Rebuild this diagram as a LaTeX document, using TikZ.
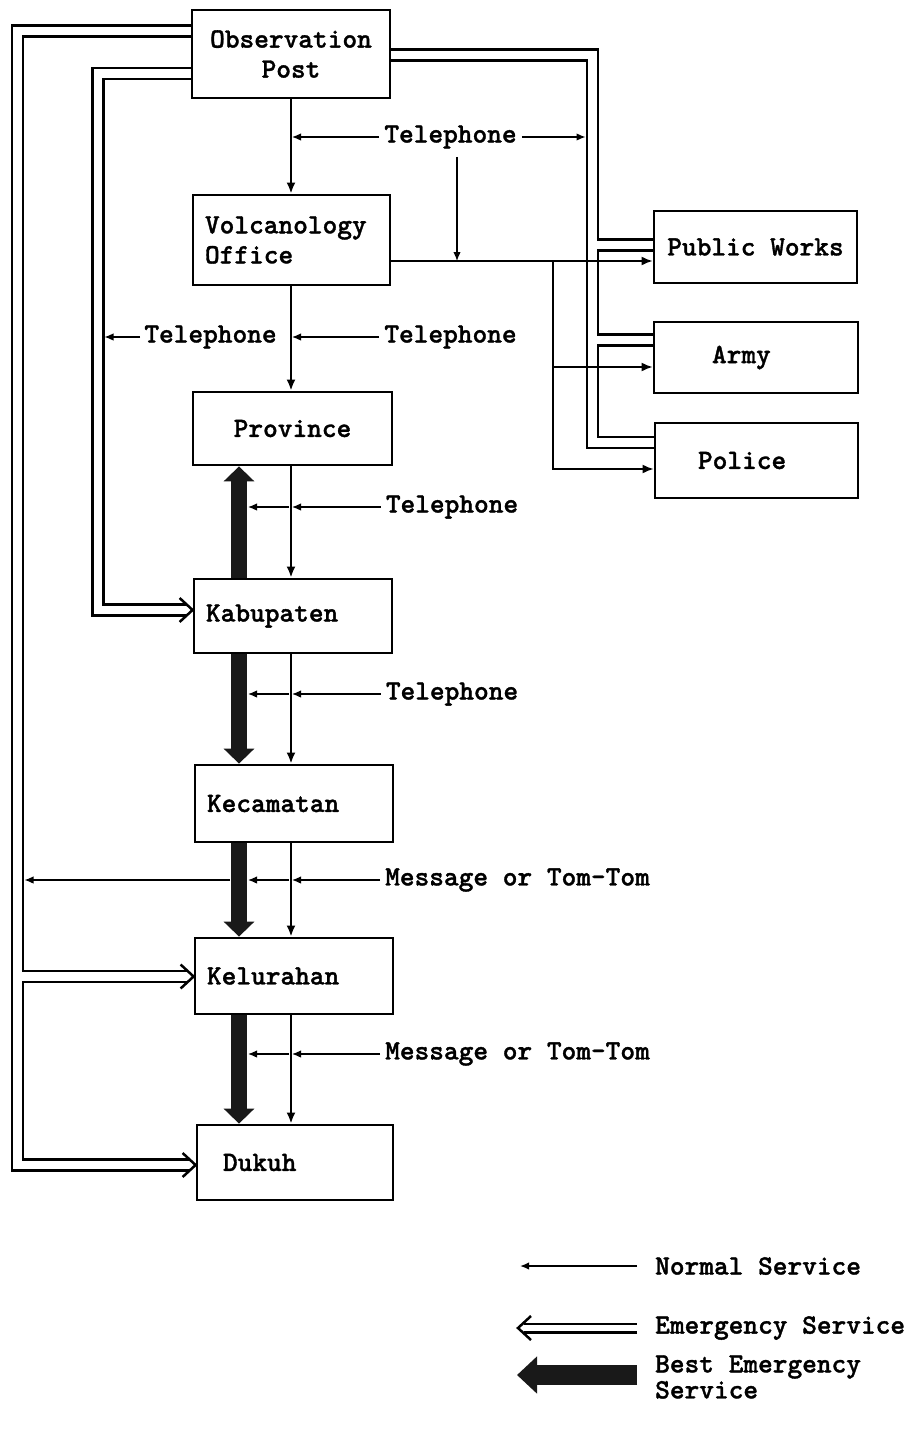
\documentclass[tikz,border=0pt]{standalone}
\usepackage{fontspec}
\usetikzlibrary{arrows.meta,calc}
\newfontfamily\tw[FakeBold=1.2]{lmmonolt10-bold.otf}
\begin{document}
\begin{tikzpicture}[x=1pt,y=-1pt,
  box/.style={draw, line width=2.8pt, inner sep=0pt, font=\tw\fontsize{28}{30}\selectfont},
  lbl/.style={inner sep=0pt, font=\tw\fontsize{28}{30}\selectfont},
  norm/.style={line width=2.2pt, -{Latex[length=11pt,width=9pt]}},
  side/.style={line width=1.8pt, -{Latex[length=11pt,width=9pt]}},
  tel/.style={line width=1.3pt, -{Latex[length=9pt,width=7.5pt]}},
  emerg/.style={double=white, double distance=8.5pt, line width=2.5pt, line join=miter},
  best/.style={line width=16pt, draw=black!90, -{Triangle[width=30pt,length=15pt,fill=black!90]}},
  ohead/.pic={\draw[line width=2.5pt, line join=miter] (-13,-12) -- (0,0) -- (-13,12);}
]
\fill[white] (0,0) rectangle (918,1429);
\path[use as bounding box] (0,0) rectangle (918,1429);

% boxes
\node[box, minimum width=198pt, minimum height=88pt, align=center] (obs) at (291,54) {Observation\\Post};
\node[box, minimum width=197pt, minimum height=90pt, text width=173pt, align=left] (volc) at (291.5,240) {Volcanology\\Office};
\node[box, minimum width=199pt, minimum height=73pt, align=center] (prov) at (292.5,428.5) {Province};
\node[box, minimum width=198pt, minimum height=74pt, text width=174pt, align=left] (kab) at (293,616) {Kabupaten};
\node[box, minimum width=198pt, minimum height=77pt, text width=174pt, align=left] (kec) at (294,803.5) {Kecamatan};
\node[box, minimum width=198pt, minimum height=76pt, text width=174pt, align=left] (kel) at (294,976) {Kelurahan};
\node[box, minimum width=196pt, minimum height=75pt, text width=144pt, align=left] (duk) at (295,1162.5) {Dukuh};
\node[box, minimum width=203pt, minimum height=72pt, align=center] (pw) at (755.5,247) {Public Works};
\node[box, minimum width=204pt, minimum height=71pt, text width=88pt, align=left] (army) at (756,357.5) {Army};
\node[box, minimum width=203pt, minimum height=75pt, text width=117pt, align=left] (pol) at (756.5,460.5) {Police};

% labels
\node[lbl] (tel1) at (450.5,137) {Telephone};
\node[lbl] (tel2) at (450.5,337) {Telephone};
\node[lbl] (tel3) at (210.5,337) {Telephone};
\node[lbl] (tel4) at (452,507) {Telephone};
\node[lbl] (tel5) at (452,694) {Telephone};
\node[lbl, anchor=west] (msg1) at (385,880) {Message or Tom-Tom};
\node[lbl, anchor=west] (msg2) at (385,1054) {Message or Tom-Tom};

% helper coordinates
\coordinate (nx) at (291,0);
\coordinate (vx) at (292,0);
\coordinate (lx) at (289,0);
\coordinate (bx) at (239,0);
\coordinate (tx) at (248,0);

% emergency service (double lines)
\coordinate (e1) at (17.5,31);
\coordinate (e2) at (17.5,1165);
\draw[emerg] (obs.west |- e1) -- (e1) -- (e2) -- ($(duk.west |- e2)+(-6,0)$);
\pic at (duk.west |- e2) {ohead};
\coordinate (e3) at (21.75,976.5);
\draw[emerg] (e3) -- ($(kel.west |- e3)+(-6,0)$);
\pic at (kel.west |- e3) {ohead};

\coordinate (i1) at (98,73.5);
\coordinate (i2) at (98,610);
\draw[emerg] (obs.west |- i1) -- (i1) -- (i2) -- ($(kab.west |- i2)+(-6,0)$);
\pic at (kab.west |- i2) {ohead};

\coordinate (r1) at (592.5,55);
\coordinate (r2) at (592.5,442.5);
\draw[emerg] (obs.east |- r1) -- (r1) -- (r2) -- (pol.west |- r2);
\coordinate (r3) at (596.75,245);
\coordinate (r4) at (596.75,340);
\draw[emerg] (r3) -- (pw.west |- r3);
\draw[emerg] (r4) -- (army.west |- r4);

% normal service verticals
\draw[norm] (obs.south -| nx) -- (volc.north -| nx);
\draw[norm] (volc.south -| nx) -- (prov.north -| nx);
\draw[norm] (prov.south -| nx) -- (kab.north -| nx);
\draw[norm] (kab.south -| nx) -- (kec.north -| nx);
\draw[norm] (kec.south -| nx) -- (kel.north -| nx);
\draw[norm] (kel.south -| nx) -- (duk.north -| nx);

% volcanology office to agencies
\coordinate (j0) at (volc.east |- 0,261);
\coordinate (j1) at (553,261);
\coordinate (j2) at (553,367);
\coordinate (j3) at (553,469);
\draw[side] (j0) -- (pw.west |- j0);
\draw[side] (j1) -- (j3) -- (pol.west |- j3);
\draw[side] (j2) -- (army.west |- j2);

% best emergency service
\draw[best] (kab.north -| bx) -- (prov.south -| bx);
\draw[best] (kab.south -| bx) -- (kec.north -| bx);
\draw[best] (kec.south -| bx) -- (kel.north -| bx);
\draw[best] (kel.south -| bx) -- (duk.north -| bx);

% label arrows
\coordinate (td) at ($(tel1.south)+(6.5,8)$);
\draw[tel] ($(tel1.west)+(-5,0)$) -- (tel1.west -| vx);
\draw[tel] ($(tel1.east)+(5,0)$) -- (tel1.east -| 585.5,0);
\draw[tel] (td) -- (td |- j0);
\draw[tel] ($(tel2.west)+(-5,0)$) -- (tel2.west -| vx);
\draw[tel] ($(tel3.west)+(-4,0)$) -- (tel3.west -| 104.5,0);
\draw[tel] ($(tel4.west)+(-5,0)$) -- (tel4.west -| vx);
\draw[tel] (tel4.west -| lx) -- (tel4.west -| tx);
\draw[tel] ($(tel5.west)+(-5,0)$) -- (tel5.west -| vx);
\draw[tel] (tel5.west -| lx) -- (tel5.west -| tx);
\draw[tel] ($(msg1.west)+(-5,0)$) -- (msg1.west -| vx);
\draw[tel] (msg1.west -| lx) -- (msg1.west -| tx);
\draw[tel] (msg1.west -| 230,0) -- (msg1.west -| 24.5,0);
\draw[tel] ($(msg2.west)+(-5,0)$) -- (msg2.west -| vx);
\draw[tel] (msg2.west -| lx) -- (msg2.west -| tx);

% legend
\node[lbl, anchor=west] (lg1) at (655,1266) {Normal Service};
\node[lbl, anchor=west] (lg2) at (655,1328) {Emergency Service};
\node[lbl, anchor=west, align=left] (lg3) at (655,1377) {Best Emergency\\[-4pt]Service};
\draw[tel, line width=1.6pt] ($(lg1.west)+(-18,0)$) -- ($(lg1.west)+(-135,0)$);
\draw[emerg, double distance=6pt] ($(lg2.west)+(-18,0)$) -- ($(lg2.west)+(-131,0)$);
\pic[rotate=180] at ($(lg2.west)+(-137,0)$) {ohead};
\draw[line width=20pt, draw=black!90, -{Triangle[width=36pt,length=20pt,fill=black!90]}] ($(lg3.west)+(-18,-2)$) -- ($(lg3.west)+(-138,-2)$);
\end{tikzpicture}
\end{document}
